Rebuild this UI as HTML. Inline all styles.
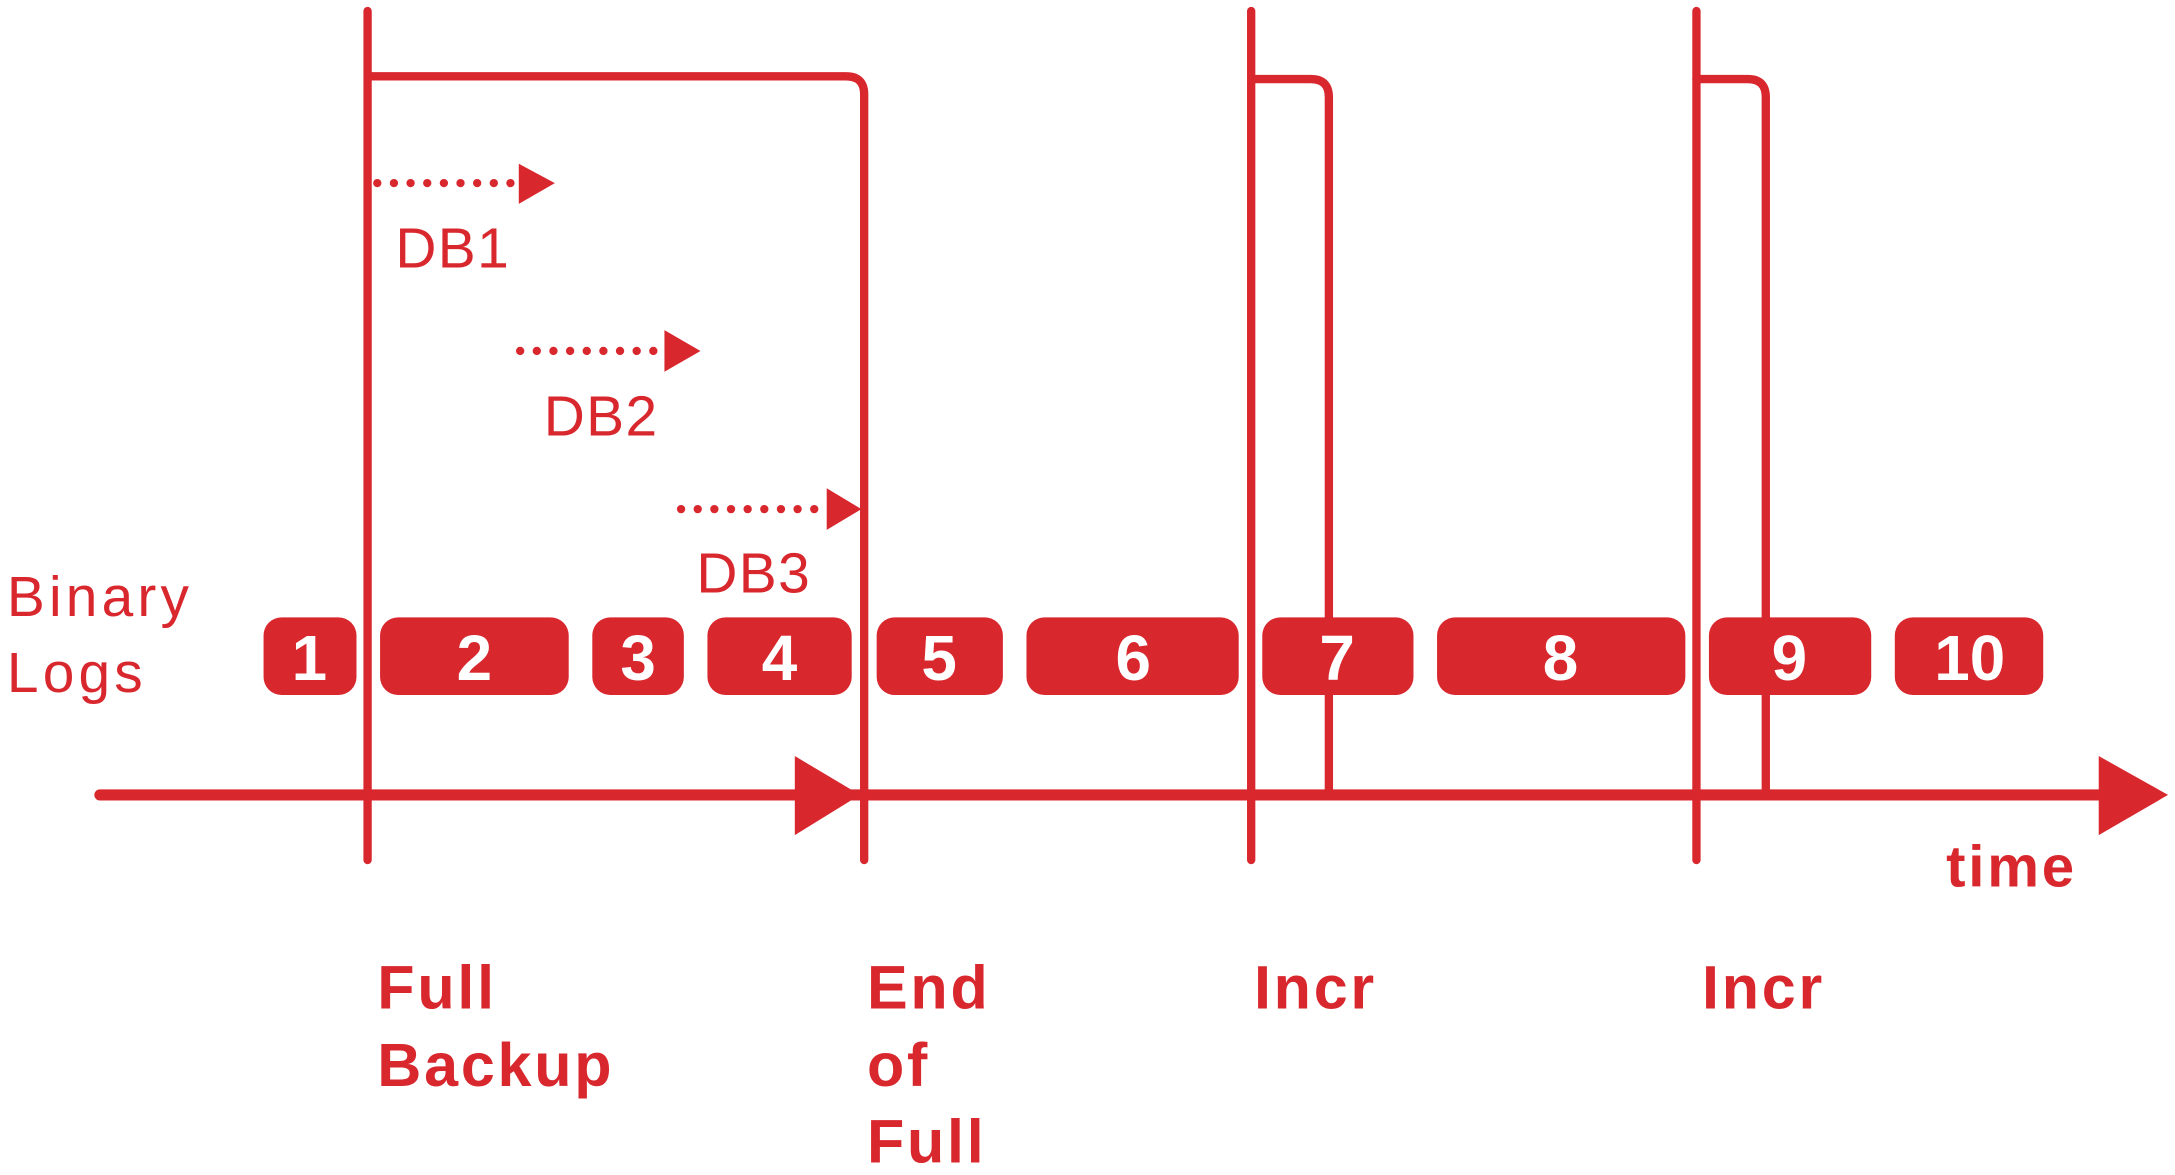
<!DOCTYPE html>
<html><head><meta charset="utf-8"><style>html,body{margin:0;padding:0;background:#fff}svg{display:block}</style></head>
<body>
<svg width="2175" height="1175" viewBox="0 0 1568 847" preserveAspectRatio="none" xmlns="http://www.w3.org/2000/svg">
<g stroke="#d9272e" stroke-width="6" fill="none" stroke-linecap="round" stroke-linejoin="round">
<line x1="72" y1="573" x2="1520" y2="573" stroke-width="8"/>
<line x1="265" y1="8" x2="265" y2="620"/>
<path d="M265 55 H610 Q623 55 623 68 V620"/>
<line x1="902" y1="8" x2="902" y2="620"/>
<path d="M902 57 H945 Q958 57 958 70 V570"/>
<line x1="1223" y1="8" x2="1223" y2="620"/>
<path d="M1223 57 H1260 Q1273 57 1273 70 V570"/>
<g stroke-dasharray="0 12" stroke-width="6">
<line x1="272" y1="132" x2="370" y2="132"/>
<line x1="375" y1="253" x2="475" y2="253"/>
<line x1="491" y1="367" x2="592" y2="367"/>
</g>
</g>
<g fill="#d9272e">
<polygon points="573,545 620,573 573,602"/>
<polygon points="1513,545 1563,573 1513,602"/>
<polygon points="374,118 400,132 374,147"/>
<polygon points="479,238 505,253 479,268"/>
<polygon points="596,352 621,367 596,382"/>
</g>
<g fill="#d9272e" font-family="Liberation Sans, sans-serif" font-size="41" font-weight="300">
<text x="285" y="193" letter-spacing="1">DB1</text>
<text x="392" y="314" letter-spacing="1">DB2</text>
<text x="502" y="427" letter-spacing="1">DB3</text>
<text x="5" y="444" letter-spacing="3">Binary</text>
<text x="5" y="499" letter-spacing="3">Logs</text>
</g>
<g fill="#d9272e">
<rect x="190" y="445" width="67" height="56" rx="13"/>
<rect x="274" y="445" width="136" height="56" rx="13"/>
<rect x="427" y="445" width="66" height="56" rx="13"/>
<rect x="510" y="445" width="104" height="56" rx="13"/>
<rect x="632" y="445" width="91" height="56" rx="13"/>
<rect x="740" y="445" width="153" height="56" rx="13"/>
<rect x="910" y="445" width="109" height="56" rx="13"/>
<rect x="1036" y="445" width="179" height="56" rx="13"/>
<rect x="1232" y="445" width="117" height="56" rx="13"/>
<rect x="1366" y="445" width="107" height="56" rx="13"/>
</g>
<g fill="#fff" font-family="Liberation Sans, sans-serif" font-size="46" font-weight="bold" text-anchor="middle">
<text x="223" y="490">1</text>
<text x="342" y="490">2</text>
<text x="460" y="490">3</text>
<text x="562" y="490">4</text>
<text x="677" y="490">5</text>
<text x="817" y="490">6</text>
<text x="964" y="490">7</text>
<text x="1125" y="490">8</text>
<text x="1290" y="490">9</text>
<text x="1420" y="490">10</text>
</g>
<g fill="#d9272e" font-family="Liberation Sans, sans-serif" font-size="44" font-weight="bold" letter-spacing="2">
<text x="272" y="727">Full</text>
<text x="272" y="783">Backup</text>
<text x="625" y="727">End</text>
<text x="625" y="783">of</text>
<text x="625" y="838">Full</text>
<text x="904" y="727">Incr</text>
<text x="1227" y="727">Incr</text>
<text x="1403" y="639" font-size="42">time</text>
</g>
</svg>
</body></html>
